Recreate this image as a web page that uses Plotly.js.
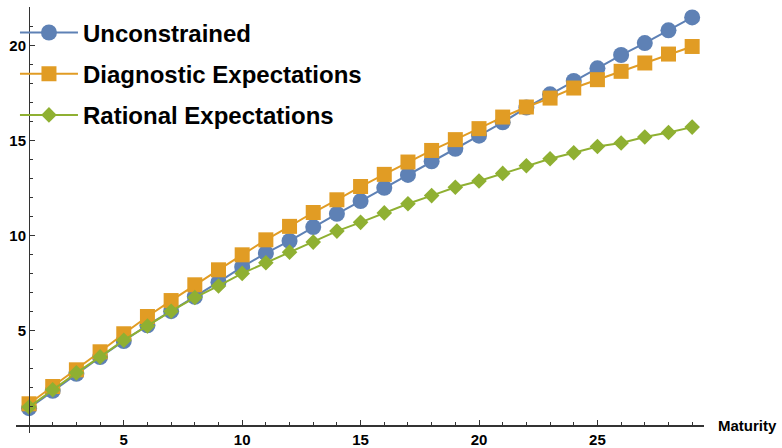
<!DOCTYPE html>
<html>
<head>
<meta charset="utf-8">
<script src="https://cdn.plot.ly/plotly-3.0.1.min.js"></script>
<style>html,body{margin:0;padding:0;background:#fff;}#chart{width:782px;height:448px;}</style>
</head>
<body>
<div id="chart"></div>
<script>
const maturity = [1,2,3,4,5,6,7,8,9,10,11,12,13,14,15,16,17,18,19,20,21,22,23,24,25,26,27,28,29];
const unconstrained = [0.91,1.82,2.72,3.6,4.45,5.28,6.02,6.78,7.55,8.35,9.08,9.72,10.45,11.15,11.82,12.52,13.2,13.92,14.58,15.27,15.97,16.75,17.45,18.15,18.82,19.52,20.15,20.82,21.5];
const diagnostic = [1.14,2.05,2.93,3.88,4.83,5.74,6.58,7.41,8.2,8.99,9.78,10.49,11.22,11.89,12.59,13.23,13.88,14.49,15.06,15.64,16.25,16.78,17.25,17.78,18.22,18.66,19.1,19.57,19.97];
const rational = [0.97,1.88,2.77,3.61,4.49,5.24,6.02,6.74,7.35,8.01,8.57,9.13,9.66,10.24,10.7,11.2,11.68,12.11,12.55,12.88,13.28,13.68,14.05,14.37,14.7,14.88,15.2,15.44,15.72];
const seriesNames = ["Unconstrained","Diagnostic Expectations","Rational Expectations"];
const xTickVals = [5,10,15,20,25];
const yTickVals = [5,10,15,20];
const axisTitle = "Maturity";

const colors = ["#5E81B5","#E19C24","#8FB032"];
const xRange = [0.45, 29.5];
const yRange = [-0.4, 22.05];

function mk(y, i, sym, size){
  return {x: maturity, y: y, name: seriesNames[i], type: 'scatter', mode: 'lines+markers',
    legendgroup: 'g'+i,
    line: {color: colors[i], width: 2},
    marker: {color: colors[i], symbol: sym, size: size, line: {width: 0}}};
}
const data = [
  mk(unconstrained, 0, 'circle', 16),
  mk(diagnostic, 1, 'square', 15),
  mk(rational, 2, 'diamond', 12)
];

const axCol = '#333333';
const layout = {
  width: 782, height: 448,
  margin: {l: 16, r: 78, t: 7, b: 15, pad: 0},
  paper_bgcolor: '#fff', plot_bgcolor: '#fff',
  font: {family: 'Liberation Sans, Arial, sans-serif', size: 15, color: '#000', weight: 'bold'},
  showlegend: true,
  legend: {x: -0.0015, y: 0.992, xanchor: 'left', yanchor: 'top', bgcolor: 'rgba(0,0,0,0)',
    font: {size: 24, color: '#000', weight: 'bold'}, traceorder: 'grouped', tracegroupgap: 7,
    itemsizing: 'trace', itemwidth: 58},
  xaxis: {range: xRange, anchor: 'free', position: (0 - yRange[0])/(yRange[1]-yRange[0]),
    showgrid: false, zeroline: false, showline: true, linecolor: axCol, linewidth: 1.3,
    tickmode: 'array', tickvals: xTickVals, ticks: 'inside', ticklen: 5, tickwidth: 1, tickcolor: axCol,
    minor: {tickmode: 'linear', tick0: 0, dtick: 1, ticks: 'inside', ticklen: 3, tickcolor: axCol, showgrid: false},
    tickfont: {size: 15, color: '#000', weight: 'bold'}},
  yaxis: {range: yRange, anchor: 'free', position: (1 - xRange[0])/(xRange[1]-xRange[0]),
    showgrid: false, zeroline: false, showline: true, linecolor: axCol, linewidth: 1.3,
    tickmode: 'array', tickvals: yTickVals, ticks: 'inside', ticklen: 5, tickwidth: 1, tickcolor: axCol,
    minor: {tickmode: 'linear', tick0: 0, dtick: 1, ticks: 'inside', ticklen: 3, tickcolor: axCol, showgrid: false},
    tickfont: {size: 15, color: '#000', weight: 'bold'}},
  annotations: [{text: axisTitle, xref: 'paper', yref: 'y', x: 1.018, y: 0, xanchor: 'left', yanchor: 'middle',
    showarrow: false, font: {size: 15, color: '#000', weight: 'bold'}}]
};
Plotly.newPlot('chart', data, layout, {staticPlot: true, displayModeBar: false});
</script>
</body>
</html>
